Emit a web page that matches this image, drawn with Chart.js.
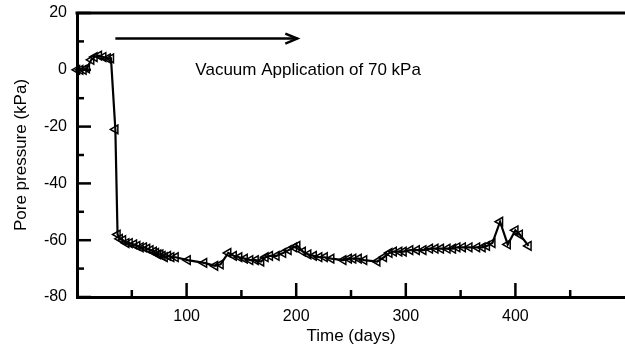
<!DOCTYPE html>
<html>
<head>
<meta charset="utf-8">
<script src="https://cdn.jsdelivr.net/npm/chart.js@4"></script>
<style>
  html, body { margin: 0; padding: 0; background: #fff; }
  #wrap { width: 625px; height: 347px; }
</style>
</head>
<body>
<div id="wrap"><canvas id="chart" width="625" height="347"></canvas></div>
<script>

// time (days) and pore pressure (kPa)
var days = [0, 3, 6, 9, 13, 16, 20, 24, 28, 31, 35, 37, 39, 42, 45, 48, 52, 55, 58, 61, 64, 67, 70, 72, 74, 76, 78, 80, 83, 86, 90,
	101, 116, 126, 131, 138, 143, 148, 153, 158, 163, 168, 172, 176, 182, 188, 193, 198, 201, 206, 211, 216, 221, 226, 232,
	243, 248, 252, 257, 262, 274, 280, 285, 289, 294, 298, 304, 310, 316, 322, 327, 332, 338, 343, 347, 352, 358, 365, 370,
	374, 379, 386, 393, 400, 404, 412];
var porePressure = [0, 0, 0, 0.5, 3.5, 4.5, 5, 4.5, 4, 4, -21, -58, -59.5, -60, -61, -61, -61.5, -62, -62.5, -62.5, -63, -63.5, -64, -64.5, -65, -65, -65.5, -66, -65.5, -66, -66,
	-67, -68, -69, -68.5, -64.5, -65.5, -66, -66.5, -67, -67, -67.5, -66, -65.5, -65.5, -64.5, -63.5, -62.5, -62, -64, -65, -65.5, -66, -66, -66.5,
	-67, -66.5, -66.5, -66.5, -67, -67.5, -66, -64.5, -64, -64, -64, -63.5, -63.5, -63.5, -63, -63, -63, -63, -63, -62.5, -62.5, -62.5, -62.5, -62.5,
	-62, -61, -53.5, -61.5, -56.5, -58, -62];

var xTickLabels = [100, 200, 300, 400];
var yTickLabels = [20, 0, -20, -40, -60, -80];

// vacuum arrow: from day, to day, at kPa
var arrowFrom = 35, arrowTo = 201, arrowLevel = 11;
var noteText = "Vacuum Application of 70 kPa";
var noteDay = 108, noteLevel = -1.8;

var FONT = "'Liberation Sans', Arial, sans-serif";

var points = [];
for (var i = 0; i < days.length; i++) {
	points.push({x: days[i], y: porePressure[i]});
}

var inwardTicks = {
	id: 'inwardTicks',
	afterDraw: function(chart) {
		var ctx = chart.ctx, area = chart.chartArea;
		var xs = chart.scales.x, ys = chart.scales.y;
		ctx.save();
		ctx.strokeStyle = '#000';
		ctx.lineWidth = 3;
		// top frame line
		ctx.beginPath();
		ctx.moveTo(area.left - 1.5, area.top);
		ctx.lineTo(area.right, area.top);
		ctx.stroke();
		ctx.lineWidth = 2.5;
		ys.ticks.forEach(function(t) {
			var py = ys.getPixelForValue(t.value);
			var len = (t.value % 20 === 0) ? 14 : 7;
			ctx.beginPath();
			ctx.moveTo(area.left, py);
			ctx.lineTo(area.left + len, py);
			ctx.stroke();
		});
		xs.ticks.forEach(function(t) {
			if (t.value <= 0 || t.value >= 500) return;
			var px = xs.getPixelForValue(t.value);
			var len = (t.value % 100 === 0) ? 14 : 7;
			ctx.beginPath();
			ctx.moveTo(px, area.bottom);
			ctx.lineTo(px, area.bottom - len);
			ctx.stroke();
		});

		// arrow and note
		var ay = ys.getPixelForValue(arrowLevel);
		var ax0 = xs.getPixelForValue(arrowFrom), ax1 = xs.getPixelForValue(arrowTo);
		ctx.lineWidth = 2.5;
		ctx.beginPath();
		ctx.moveTo(ax0, ay);
		ctx.lineTo(ax1, ay);
		ctx.stroke();
		ctx.beginPath();
		ctx.moveTo(ax1 - 12, ay - 5);
		ctx.lineTo(ax1, ay);
		ctx.lineTo(ax1 - 12, ay + 5);
		ctx.stroke();

		ctx.fillStyle = '#000';
		ctx.font = '17px ' + FONT;
		ctx.textAlign = 'left';
		ctx.textBaseline = 'alphabetic';
		ctx.fillText(noteText, xs.getPixelForValue(noteDay), ys.getPixelForValue(noteLevel));
		ctx.restore();
	}
};

var chart_line = new Chart(document.getElementById('chart'), {
	type: 'line',
	data: {
		datasets: [{
			data: points,
			borderColor: '#000',
			borderWidth: 2.2,
			pointStyle: 'triangle',
			rotation: -90,
			pointRadius: 5,
			pointBorderWidth: 1.5,
			pointBorderColor: '#000',
			pointBackgroundColor: 'rgba(255,255,255,0)',
			tension: 0,
			clip: false
		}]
	},
	options: {
		responsive: false,
		animation: false,
		layout: { autoPadding: false, padding: { top: 13, right: 0, left: 0, bottom: 0 } },
		plugins: { legend: { display: false }, tooltip: { enabled: false } },
		scales: {
			x: {
				type: 'linear',
				min: 0,
				max: 500,
				afterFit: function(scale) {
					scale.height = 50;
					scale.paddingLeft = 0;
					scale.paddingRight = 0;
				},
				grid: { display: false, drawTicks: false },
				border: { display: true, color: '#000', width: 3 },
				ticks: {
					stepSize: 50,
					padding: 10,
					color: '#000',
					font: { family: FONT, size: 16 },
					maxRotation: 0,
					autoSkip: false,
					callback: function(v) { return xTickLabels.indexOf(v) >= 0 ? String(v) : ''; }
				},
				title: {
					display: true,
					text: 'Time (days)',
					color: '#000',
					font: { family: FONT, size: 17 },
					padding: { top: 0, bottom: 0 }
				}
			},
			y: {
				min: -80,
				max: 20,
				afterFit: function(scale) {
					scale.width = 77;
					scale.paddingTop = 0;
					scale.paddingBottom = 0;
				},
				grid: { display: false, drawTicks: false },
				border: { display: true, color: '#000', width: 3 },
				ticks: {
					stepSize: 10,
					padding: 10,
					color: '#000',
					font: { family: FONT, size: 16 },
					autoSkip: false,
					callback: function(v) { return yTickLabels.indexOf(v) >= 0 ? String(v) : ''; }
				},
				title: {
					display: true,
					text: 'Pore pressure (kPa)',
					color: '#000',
					font: { family: FONT, size: 17 },
					padding: { top: 11, bottom: 0 }
				}
			}
		}
	},
	plugins: [inwardTicks]
});

</script>
</body>
</html>
